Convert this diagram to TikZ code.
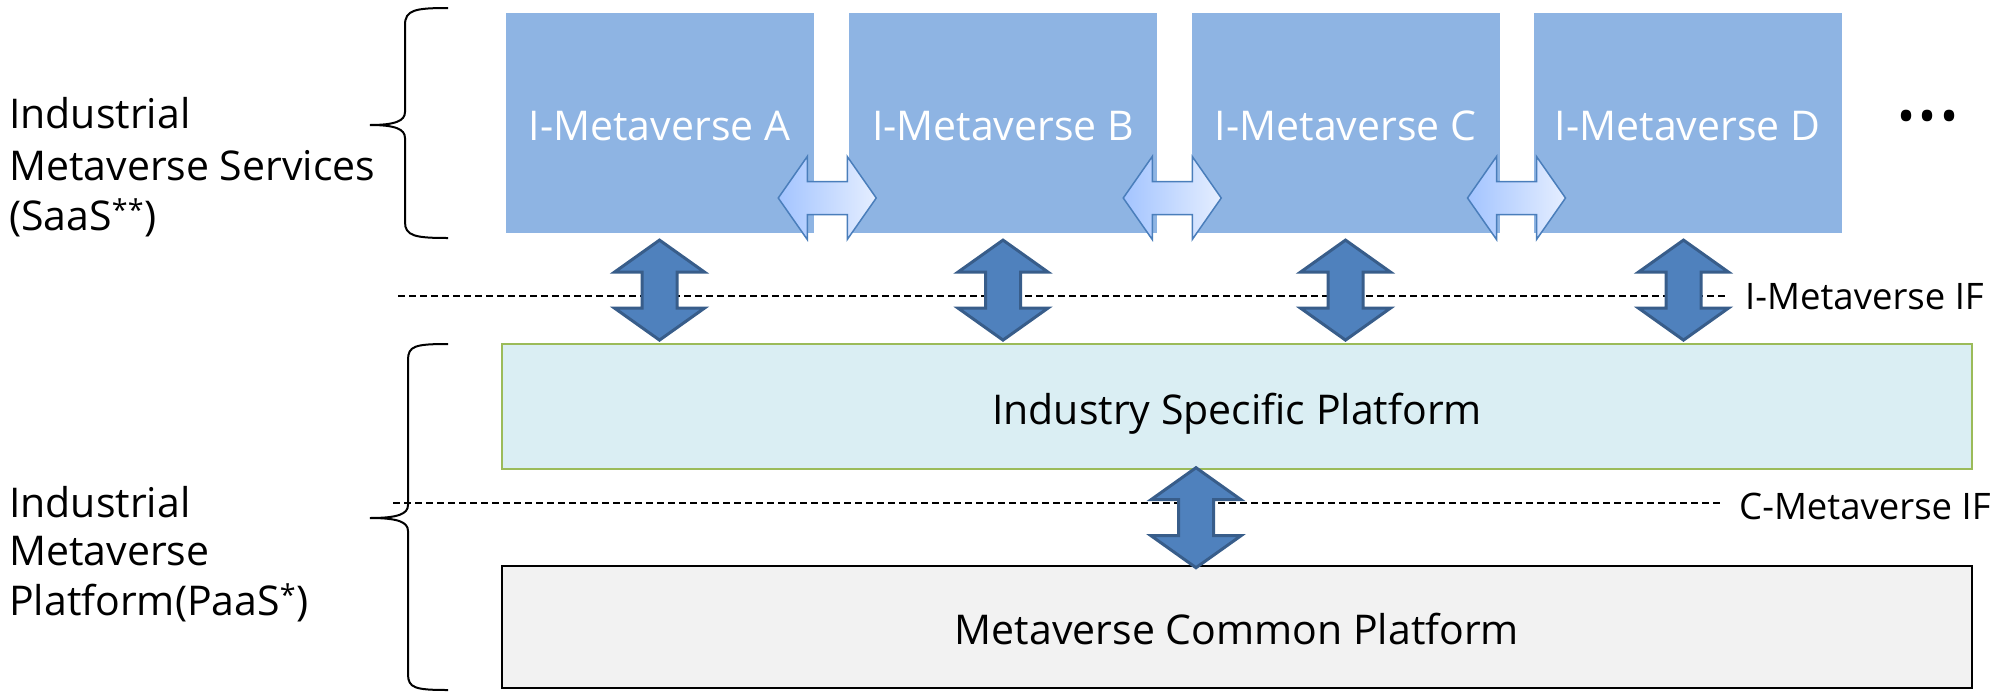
\documentclass[tikz,border=0pt]{standalone}
\usepackage{fontspec}
\setmainfont{Open Sans}
\usetikzlibrary{calc}
\definecolor{boxblue}{HTML}{8EB4E3}
\definecolor{arrfill}{HTML}{4F81BD}
\definecolor{arrdraw}{HTML}{385D8A}
\definecolor{hleft}{HTML}{A3C4FF}
\definecolor{hright}{HTML}{E5EEFF}
\definecolor{hdraw}{HTML}{4A7EBB}
\definecolor{ispfill}{HTML}{DAEEF3}
\definecolor{ispdraw}{HTML}{9BBB59}
\definecolor{mcpfill}{HTML}{F2F2F2}
\tikzset{
  pics/vdarrow/.style={code={\draw[fill=arrfill,draw=arrdraw,line width=3pt,line join=miter]
    (0,-50) -- (45,-18) -- (17.5,-18) -- (17.5,18) -- (45,18) -- (0,50) -- (-45,18) -- (-17.5,18) -- (-17.5,-18) -- (-45,-18) -- cycle;}},
  pics/hdarrow/.style={code={\draw[left color=hleft,right color=hright,draw=hdraw,line width=1.5pt]
    (-49,0) -- (-20,-41.5) -- (-20,-16.5) -- (20,-16.5) -- (20,-41.5) -- (49,0) -- (20,41.5) -- (20,16.5) -- (-20,16.5) -- (-20,41.5) -- cycle;}},
}
\begin{document}
\begin{tikzpicture}[x=1pt,y=-1pt,
  svcbox/.style={rectangle, fill=boxblue, minimum width=308pt, minimum height=220pt, inner sep=0pt, text=white, text height=35pt, text depth=0pt, font=\fontsize{41}{50}\selectfont},
  platbox/.style={rectangle, minimum width=1470pt, inner sep=0pt, text height=35pt, text depth=0pt, font=\fontsize{41}{50}\selectfont},
  sidetext/.style={anchor=base west, inner sep=0pt, font=\fontsize{41}{50}\selectfont},
  iflabel/.style={anchor=base west, inner sep=0pt, font=\fontsize{36.5}{44}\selectfont},
  dashline/.style={line width=1.5pt, dash pattern=on 7pt off 4pt},
  bracestyle/.style={line width=2pt},
]
\useasboundingbox (0,0) rectangle (2014,691);

% dashed interface lines and labels
\coordinate (d1) at (398,296);
\coordinate (d2) at (393,503);
\node[iflabel] (ifI) at (1745,309) {I-Metaverse IF};
\node[iflabel] (ifC) at (1739,519) {C-Metaverse IF};
\draw[dashline] (d1) -- ($(d1 -| ifI.west)+(-17,0)$);
\draw[dashline] (d2) -- ($(d2 -| ifC.west)+(-18,0)$);

% service boxes
\node[svcbox] (A) at (659.5,123) {I-Metaverse A};
\node[svcbox] (B) at (1003,123) {I-Metaverse B};
\node[svcbox] (C) at (1345.5,123) {I-Metaverse C};
\node[svcbox] (D) at (1687.5,123) {I-Metaverse D};
\node[inner sep=0pt, font=\fontsize{48}{48}\selectfont] (dots) at (1928,122) {•\kern3pt•\kern3pt•};

% platform boxes
\node[platbox, fill=ispfill, draw=ispdraw, line width=2pt, minimum height=125pt] (isp) at (1237,406.5) {Industry Specific Platform};
\node[platbox, fill=mcpfill, draw=black, line width=1.2pt, minimum height=122pt] (mcp) at (1237,627) {Metaverse Common Platform};

% horizontal double arrows between services
\pic at ($(A.east)!0.5!(B.west)+(-4,75)$) {hdarrow};
\pic at ($(B.east)!0.5!(C.west)+(-2,75)$) {hdarrow};
\pic at ($(C.east)!0.5!(D.west)+(0,75)$) {hdarrow};

% vertical double arrows
\pic at ($(A.south)!0.5!(A.south |- isp.north)+(0,2)$) {vdarrow};
\pic at ($(B.south)!0.5!(B.south |- isp.north)+(0,2)$) {vdarrow};
\pic at ($(C.south)!0.5!(C.south |- isp.north)+(0,2)$) {vdarrow};
\pic at ($(D.south)!0.5!(D.south |- isp.north)+(-4,2)$) {vdarrow};
\pic at ($(isp.south)!0.5!(mcp.north)+(-41,0)$) {vdarrow};

% braces
\draw[bracestyle] (448,8) .. controls (415,8) and (405,10) .. (405,25) -- (405,112)
  .. controls (405,121) and (395,125) .. (370,125)
  .. controls (395,125) and (405,129) .. (405,138) -- (405,222)
  .. controls (405,236) and (415,238) .. (448,238);
\draw[bracestyle] (448,344) .. controls (415,344) and (408,346) .. (408,360) -- (408,505)
  .. controls (408,514) and (398,518) .. (370,518)
  .. controls (398,518) and (408,522) .. (408,531) -- (408,674)
  .. controls (408,688) and (415,690) .. (448,690);

% side texts
\node[sidetext] (s1) at (9,128) {Industrial};
\node[sidetext] (s2) at (9,180) {Metaverse Services};
\node[sidetext] (s3) at (9,230) {(SaaS\textsuperscript{**})};
\node[sidetext] (p1) at (9,517) {Industrial};
\node[sidetext] (p2) at (9,565) {Metaverse};
\node[sidetext] (p3) at (9,615) {Platform(PaaS\textsuperscript{*})};
\end{tikzpicture}
\end{document}
